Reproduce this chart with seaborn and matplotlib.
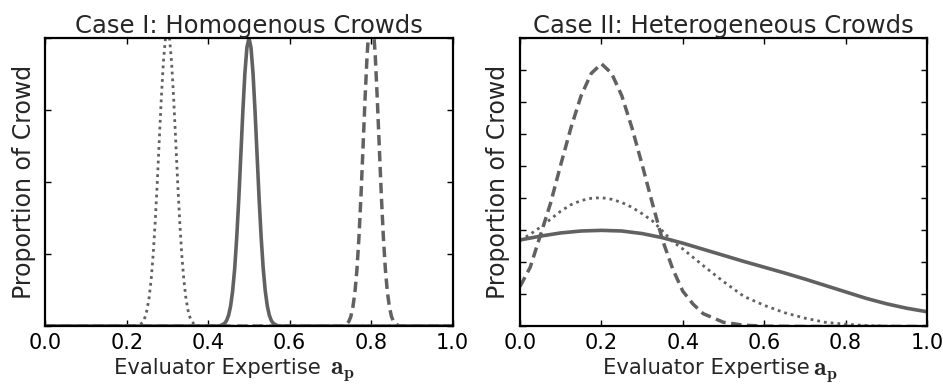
import numpy as np
import pandas as pd
import matplotlib
matplotlib.use('Agg')
import matplotlib.pyplot as plt
import seaborn as sns

# ---- Case I: homogenous crowds ----
hom_dot_x = [0.0, 0.22, 0.23, 0.235, 0.24, 0.245, 0.25, 0.255, 0.26, 0.265, 0.27, 0.275, 0.28, 0.285,
             0.29, 0.295, 0.3, 0.305, 0.31, 0.315, 0.32, 0.325, 0.33, 0.335, 0.34, 0.345, 0.35,
             0.355, 0.36, 0.365, 0.37, 0.38, 1.0]
hom_dot_y = [0.0, 0.0, 0.015, 0.03, 0.064, 0.125, 0.23, 0.40, 0.65, 1.0, 1.46, 2.0, 2.6, 3.18,
             3.67, 4.0, 4.12, 4.0, 3.67, 3.18, 2.6, 2.0, 1.46, 1.0, 0.65, 0.40, 0.23,
             0.125, 0.064, 0.03, 0.015, 0.0, 0.0]

hom_sol_x = [0.0, 0.42, 0.43, 0.44, 0.445, 0.45, 0.455, 0.46, 0.465, 0.47, 0.475, 0.48, 0.485, 0.49,
             0.495, 0.5, 0.505, 0.51, 0.515, 0.52, 0.525, 0.53, 0.535, 0.54, 0.545, 0.55,
             0.555, 0.56, 0.57, 0.58, 1.0]
hom_sol_y = [0.0, 0.0, 0.006, 0.036, 0.076, 0.15, 0.28, 0.49, 0.80, 1.23, 1.76, 2.37, 2.98, 3.51,
             3.87, 4.0, 3.87, 3.51, 2.98, 2.37, 1.76, 1.23, 0.80, 0.49, 0.28, 0.15,
             0.076, 0.036, 0.006, 0.0, 0.0]

hom_dash_x = [0.0, 0.73, 0.74, 0.745, 0.75, 0.755, 0.76, 0.765, 0.77, 0.775, 0.78, 0.785, 0.79, 0.795,
              0.8, 0.805, 0.81, 0.815, 0.82, 0.825, 0.83, 0.835, 0.84, 0.845, 0.85, 0.855,
              0.86, 0.87, 1.0]
hom_dash_y = [0.0, 0.0, 0.028, 0.063, 0.13, 0.26, 0.46, 0.78, 1.23, 1.81, 2.48, 3.16, 3.76, 4.18,
              4.33, 4.18, 3.76, 3.16, 2.48, 1.81, 1.23, 0.78, 0.46, 0.26, 0.13, 0.063,
              0.028, 0.0, 0.0]

# ---- Case II: heterogeneous crowds ----
het_dash_x = [0.0, 0.025, 0.05, 0.075, 0.1, 0.125, 0.15, 0.175, 0.2, 0.225, 0.25, 0.275, 0.3,
              0.325, 0.35, 0.375, 0.4, 0.425, 0.45, 0.5, 0.55, 0.6, 0.7, 0.8, 0.9, 1.0]
het_dash_y = [1.25, 1.85, 2.85, 3.85, 5.05, 6.2, 7.2, 7.9, 8.2, 7.9, 7.2, 6.2, 5.05,
              3.85, 2.7, 1.8, 1.1, 0.7, 0.4, 0.13, 0.04, 0.01, 0.0, 0.0, 0.0, 0.0]

het_dot_x = [0.0, 0.025, 0.05, 0.075, 0.1, 0.125, 0.15, 0.175, 0.2, 0.225, 0.25, 0.275, 0.3,
             0.325, 0.35, 0.375, 0.4, 0.45, 0.5, 0.55, 0.6, 0.65, 0.7, 0.75, 0.8, 0.85, 0.9,
             0.95, 1.0]
het_dot_y = [2.68, 2.88, 3.1, 3.35, 3.6, 3.8, 3.93, 4.0, 4.02, 3.97, 3.87, 3.72, 3.52,
             3.3, 2.98, 2.65, 2.42, 1.9, 1.4, 0.94, 0.66, 0.43, 0.26, 0.13, 0.07, 0.03, 0.01,
             0.0, 0.0]

het_sol_x = [0.0, 0.05, 0.1, 0.15, 0.2, 0.25, 0.3, 0.35, 0.4, 0.45, 0.5, 0.55, 0.6, 0.65,
             0.7, 0.75, 0.8, 0.85, 0.9, 0.95, 1.0]
het_sol_y = [2.70, 2.82, 2.92, 2.98, 3.0, 2.98, 2.9, 2.77, 2.6, 2.41, 2.22, 2.03, 1.85, 1.67,
             1.48, 1.28, 1.08, 0.88, 0.71, 0.57, 0.46]

xticks = [0.0, 0.2, 0.4, 0.6, 0.8, 1.0]

sns.set_style('white')
plt.rcParams['font.family'] = ['DejaVu Sans']
plt.rcParams['mathtext.fontset'] = 'cm'

grey = '#616161'

fig = plt.figure(figsize=(9.43, 3.85), dpi=100)
ax1 = fig.add_axes([0.048, 0.153, 0.432, 0.748])
ax2 = fig.add_axes([0.5515, 0.152, 0.4315, 0.749])

def draw(ax, dot_x, dot_y, sol_x, sol_y, dash_x, dash_y):
    sns.lineplot(x=dot_x, y=dot_y, ax=ax, color=grey, lw=2.0)
    ax.lines[-1].set_dashes((1.0, 1.45))
    sns.lineplot(x=sol_x, y=sol_y, ax=ax, color=grey, lw=2.6)
    sns.lineplot(x=dash_x, y=dash_y, ax=ax, color=grey, lw=2.5)
    ax.lines[-1].set_dashes((3.0, 1.6))

draw(ax1, hom_dot_x, hom_dot_y, hom_sol_x, hom_sol_y, hom_dash_x, hom_dash_y)
draw(ax2, het_dot_x, het_dot_y, het_sol_x, het_sol_y, het_dash_x, het_dash_y)

ax1.set_ylim(0, 4)
ax1.set_yticks([0, 1, 2, 3, 4])
ax2.set_ylim(0, 9)
ax2.set_yticks(list(range(10)))

ax1.set_title('Case I: Homogenous Crowds', fontsize=17.5, pad=4)
ax2.set_title('Case II: Heterogeneous Crowds', fontsize=17.5, pad=4)

# x label: words end right of centre, the bold serif a_p follows
for ax, x_end, x_sym in ((ax1, 0.676, 0.700), (ax2, 0.713, 0.721)):
    ax.set_xlabel('Evaluator Expertise', fontsize=15.2, ha='right', va='baseline')
    ax.xaxis.set_label_coords(x_end, -0.166)
    ax.text(x_sym, -0.166, r'$\mathbf{a_p}$', transform=ax.transAxes,
            fontsize=18.5, ha='left', va='baseline')

for ax in (ax1, ax2):
    ax.set_xlim(0, 1)
    ax.set_xticks(xticks)
    ax.set_xticklabels(['%.1f' % t for t in xticks])
    ax.set_yticklabels([])
    ax.set_ylabel('Proportion of Crowd', fontsize=17, labelpad=2)
    ax.tick_params(direction='in', length=4, width=1, bottom=True, left=True,
                   top=True, right=True, labelsize=15, colors='black', pad=5)
    for s in ax.spines.values():
        s.set_visible(True)
        s.set_color('black')
        s.set_linewidth(1.6)

fig.savefig('out.png', dpi=100)
